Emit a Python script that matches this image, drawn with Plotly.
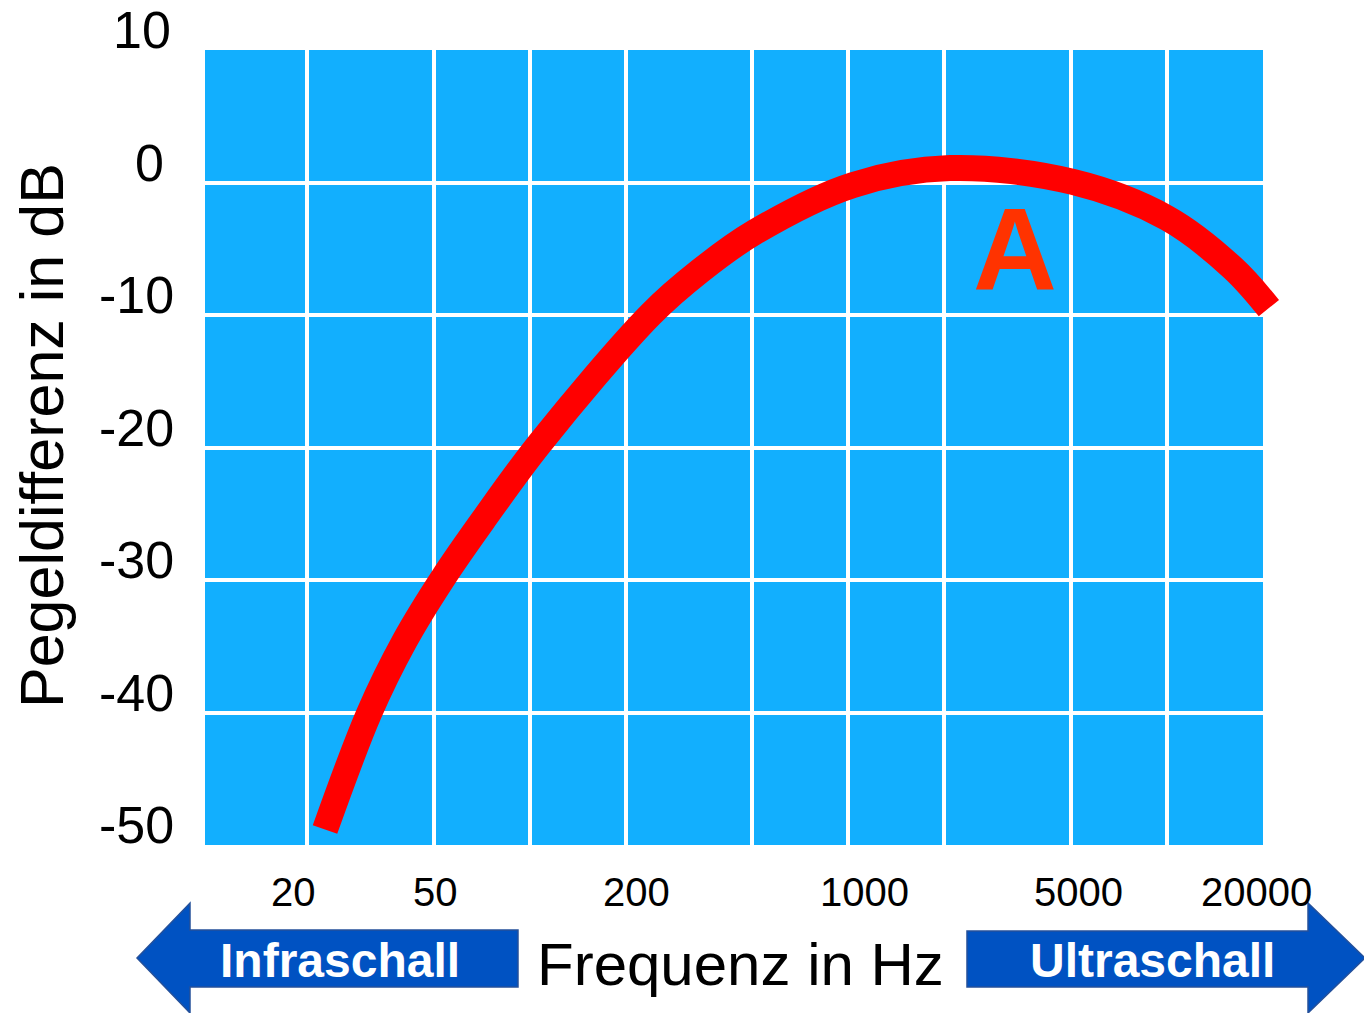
import math
import plotly.graph_objects as go

# ---- data (A-weighting curve) ----
freq_hz = [22.78, 31.42, 40.60, 53.62, 71.33, 107.7, 240.2, 342.1, 509.0,
           1033, 2083, 5064, 9989, 16090, 20870]
level_db = [-48.83, -39.99, -34.55, -29.80, -25.50, -19.67, -9.93, -6.68, -3.74,
            -0.19, 1.09, 0.04, -2.68, -6.46, -9.48]

grid_freqs = [20, 50, 100, 200, 500, 1000, 2000, 5000, 10000]
x_tick_freqs = [20, 50, 200, 1000, 5000, 20000]
x_tick_labels = ["20", "50", "200", "1000", "5000", "20000"]
y_tick_values = [10, 0, -10, -20, -30, -40, -50]
y_grid_values = [-40, -30, -20, -10, 0]

# label placement offsets (pixels)
x_label_shift = [-14, 2, 11, 16, 7, -7]
y_label_shift = [-3, -10, 0, 0, 0, 0, 0]

# ---- layout geometry (page pixel coordinates; page body has an 8px margin) ----
OFF = 8
W, H = 1372 - OFF, 1013 - OFF
L, T, PR, PB = 205, 50, 1300, 845        # plot area in page px
BLUE_RIGHT = 1263
FONT = "Arial, Liberation Sans, sans-serif"


def xp(px):
    return (px - L) / (PR - L)


def yp(py):
    return (PB - py) / (PB - T)


px_per_decade = (BLUE_RIGHT - 307) / 3.0
x_left = math.log10(20) - (307 - L) / px_per_decade
x_right = x_left + (PR - L) / px_per_decade

fig = go.Figure()
fig.add_trace(go.Scatter(
    x=freq_hz, y=level_db, mode="lines",
    line=dict(color="#FF0000", width=26, shape="spline", smoothing=1.0),
    hoverinfo="skip", showlegend=False, cliponaxis=False,
))

shapes = [
    dict(type="rect", xref="paper", yref="paper", x0=0, x1=xp(BLUE_RIGHT), y0=0, y1=1,
         fillcolor="#12AFFE", line=dict(width=0), layer="below"),
]


def poly(points):
    return "M " + " L ".join(f"{xp(a):.5f},{yp(b):.5f}" for a, b in points) + " Z"


left_arrow = [(137, 958), (190, 903), (190, 930), (518, 930), (518, 987), (190, 987), (190, 1013)]
right_arrow = [(967, 931), (1308, 931), (1308, 903), (1365, 958), (1308, 1013), (1308, 987), (967, 987)]
for pts in (left_arrow, right_arrow):
    shapes.append(dict(type="path", xref="paper", yref="paper", path=poly(pts),
                       fillcolor="#0052C2", line=dict(color="#24509A", width=1.5), layer="above"))

annotations = []
for f, lab, sh in zip(x_tick_freqs, x_tick_labels, x_label_shift):
    annotations.append(dict(x=math.log10(f), xref="x", y=yp(892), yref="paper", text=lab,
                            showarrow=False, xanchor="center", yanchor="middle", xshift=sh,
                            font=dict(family=FONT, size=40, color="black")))
for v, sh in zip(y_tick_values, y_label_shift):
    annotations.append(dict(x=xp(176), xref="paper", y=v, yref="y", text=str(v),
                            showarrow=False, xanchor="right", yanchor="middle", yshift=20, xshift=sh,
                            font=dict(family=FONT, size=52, color="black")))

annotations += [
    dict(x=xp(740), y=yp(964), xref="paper", yref="paper", text="Frequenz in Hz", showarrow=False,
         xanchor="center", yanchor="middle", font=dict(family=FONT, size=60, color="black")),
    dict(x=xp(42), y=yp(436), xref="paper", yref="paper", text="Pegeldifferenz in dB", showarrow=False,
         textangle=-90, xanchor="center", yanchor="middle", font=dict(family=FONT, size=61, color="black")),
    dict(x=xp(340), y=yp(960), xref="paper", yref="paper", text="<b>Infraschall</b>", showarrow=False,
         xanchor="center", yanchor="middle", font=dict(family=FONT, size=48, color="white")),
    dict(x=xp(1152), y=yp(960), xref="paper", yref="paper", text="<b>Ultraschall</b>", showarrow=False,
         xanchor="center", yanchor="middle", font=dict(family=FONT, size=48, color="white")),
    dict(x=xp(1015), y=yp(250), xref="paper", yref="paper", text="<b>A</b>", showarrow=False,
         xanchor="center", yanchor="middle", font=dict(family=FONT, size=116, color="#FF3300")),
]

fig.update_layout(
    width=W, height=H,
    margin=dict(l=L - OFF, r=(1372 - PR), t=T - OFF, b=(1013 - PB), pad=0),
    paper_bgcolor="white", plot_bgcolor="white",
    showlegend=False,
    shapes=shapes, annotations=annotations,
    xaxis=dict(type="log", range=[x_left, x_right], tickmode="array", tickvals=grid_freqs,
               showticklabels=False, ticks="", showgrid=True, gridcolor="white", gridwidth=4,
               zeroline=False, showline=False, fixedrange=True),
    yaxis=dict(range=[-50, 10], tickmode="array", tickvals=y_grid_values,
               showticklabels=False, ticks="", showgrid=True, gridcolor="white", gridwidth=4,
               zeroline=False, showline=False, fixedrange=True),
)

fig.write_html("out.html")
